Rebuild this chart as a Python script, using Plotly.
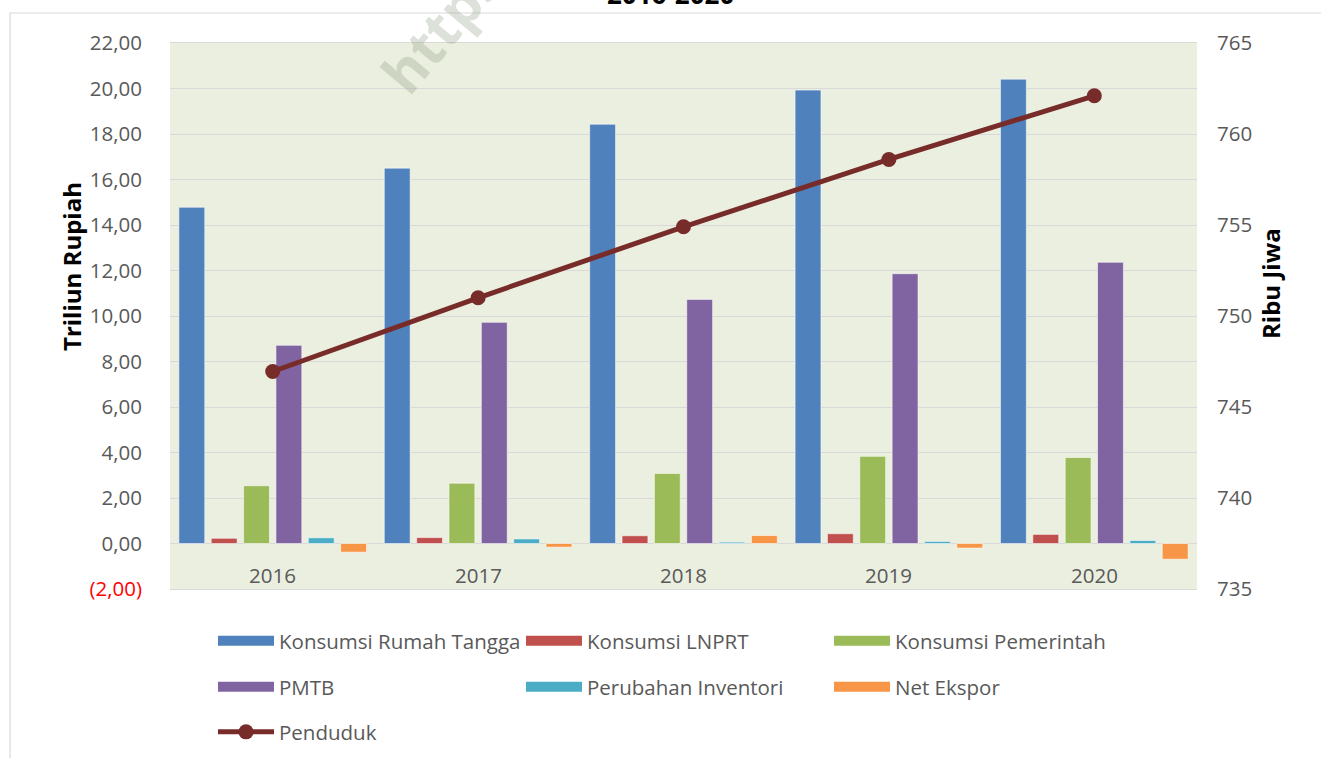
import plotly.graph_objects as go

years = ["2016", "2017", "2018", "2019", "2020"]
konsumsi_rt = [14.78, 16.50, 18.43, 19.93, 20.41]
konsumsi_lnprt = [0.23, 0.26, 0.34, 0.43, 0.40]
konsumsi_pemerintah = [2.54, 2.65, 3.08, 3.83, 3.78]
pmtb = [8.71, 9.72, 10.73, 11.86, 12.36]
perubahan_inventori = [0.25, 0.20, 0.06, 0.09, 0.13]
net_ekspor = [-0.38, -0.16, 0.35, -0.20, -0.69]
penduduk = [746.95, 751.0, 754.9, 758.6, 762.1]

left_ticks = [-2, 0, 2, 4, 6, 8, 10, 12, 14, 16, 18, 20, 22]
left_labels = ['<span style="color:#FF0000">(2,00)</span>'] + [f"{v:.2f}".replace(".", ",") for v in left_ticks[1:]]
right_ticks = [735, 740, 745, 750, 755, 760, 765]

bar_series = [
    ("Konsumsi Rumah Tangga", konsumsi_rt, "#4F81BD", "legend"),
    ("Konsumsi LNPRT", konsumsi_lnprt, "#C0504D", "legend"),
    ("Konsumsi Pemerintah", konsumsi_pemerintah, "#9BBB59", "legend"),
    ("PMTB", pmtb, "#8064A2", "legend2"),
    ("Perubahan Inventori", perubahan_inventori, "#4BACC6", "legend2"),
    ("Net Ekspor", net_ekspor, "#F79646", "legend2"),
]

FONT = "Open Sans"
GRAY = "#595959"

fig = go.Figure()
for name, vals, color, lg in bar_series:
    fig.add_trace(go.Bar(
        x=years, y=vals, name=name, legendgroup=name, showlegend=False,
        marker=dict(color=color, line=dict(color="rgba(255,255,255,0.55)", width=1)),
    ))
    # legend-only entry drawn as a wide swatch, like the reference legend
    fig.add_trace(go.Scatter(
        x=[None], y=[None], name=name, legendgroup=name, legend=lg, mode="lines",
        line=dict(color=color, width=14), hoverinfo="skip",
    ))

fig.add_trace(go.Scatter(
    x=years, y=penduduk, name="Penduduk", yaxis="y2", legend="legend3",
    mode="lines+markers",
    line=dict(color="#772C2A", width=5),
    marker=dict(color="#772C2A", size=15),
))

W, H = 1321, 758
ml, mr, mt, mb = 170, 124, 43, 169
pw, ph = W - ml - mr, H - mt - mb

def px_x(p):
    return (p - ml) / pw

def px_y(p):
    return (H - mb - p) / ph

annotations = []
for i, yr in enumerate(years):
    annotations.append(dict(x=i, y=-1.4, xref="x", yref="y", text=yr, showarrow=False,
                            xanchor="center", yanchor="middle",
                            font=dict(family=FONT, size=20.5, color=GRAY)))
annotations.append(dict(x=px_x(71), y=px_y(267), xref="paper", yref="paper", text="<b>Triliun Rupiah</b>",
                        textangle=-90, showarrow=False, xanchor="center", yanchor="middle",
                        font=dict(family=FONT, size=24, color="#000000")))
annotations.append(dict(x=px_x(1270), y=px_y(284), xref="paper", yref="paper", text="<b>Ribu Jiwa</b>",
                        textangle=-90, showarrow=False, xanchor="center", yanchor="middle",
                        font=dict(family=FONT, size=24, color="#000000")))
annotations.append(dict(x=px_x(670), y=px_y(14), xref="paper", yref="paper", text="<b>2016-2020</b>",
                        showarrow=False, xanchor="center", yanchor="bottom",
                        font=dict(family=FONT, size=26, color="#000000")))
annotations.append(dict(x=px_x(440), y=px_y(27), xref="paper", yref="paper", text="<b>https</b>",
                        textangle=-50, showarrow=False, xanchor="center", yanchor="middle",
                        font=dict(family=FONT, size=56, color="rgba(150,165,140,0.33)")))

shapes = [dict(type="rect", xref="paper", yref="paper", x0=px_x(10), x1=px_x(1340), y0=px_y(800), y1=px_y(13),
               line=dict(color="#D9D9D9", width=1.2), fillcolor="rgba(0,0,0,0)", layer="below")]

leg_common = dict(orientation="h", xanchor="left", yanchor="middle", entrywidth=237, entrywidthmode="pixels",
                  font=dict(family=FONT, size=20.5, color=GRAY), bgcolor="rgba(0,0,0,0)", itemwidth=56,
                  traceorder="normal", borderwidth=0)

fig.update_layout(
    width=W, height=H,
    margin=dict(l=ml, r=mr, t=mt, b=mb, autoexpand=False),
    paper_bgcolor="#FFFFFF",
    plot_bgcolor="#EBEFDF",
    barmode="group", bargap=0.055, bargroupgap=0.2,
    xaxis=dict(type="category", categoryorder="array", categoryarray=years, range=[-0.5, len(years) - 0.5],
               showticklabels=False, showgrid=False, showline=True, mirror=True,
               linecolor="#D9D9D9", linewidth=1, ticks=""),
    yaxis=dict(range=[-2, 22], tickvals=left_ticks, ticktext=left_labels, showgrid=True, gridcolor="#D9D9D9",
               gridwidth=1, zeroline=False, ticklabelstandoff=27,
               tickfont=dict(family=FONT, size=20.5, color=GRAY)),
    yaxis2=dict(range=[735, 765], tickvals=right_ticks, overlaying="y", side="right", showgrid=False,
                zeroline=False, ticklabelstandoff=19, tickfont=dict(family=FONT, size=20.5, color=GRAY)),
    legend=dict(x=px_x(213), y=px_y(641), **leg_common),
    legend2=dict(x=px_x(213), y=px_y(687), **leg_common),
    legend3=dict(x=px_x(213), y=px_y(732), **leg_common),
    annotations=annotations,
    shapes=shapes,
    showlegend=True,
)

fig.write_html("out.html", config={"displayModeBar": False},
               post_script="document.body.style.margin='0px';document.body.style.overflow='hidden';")
